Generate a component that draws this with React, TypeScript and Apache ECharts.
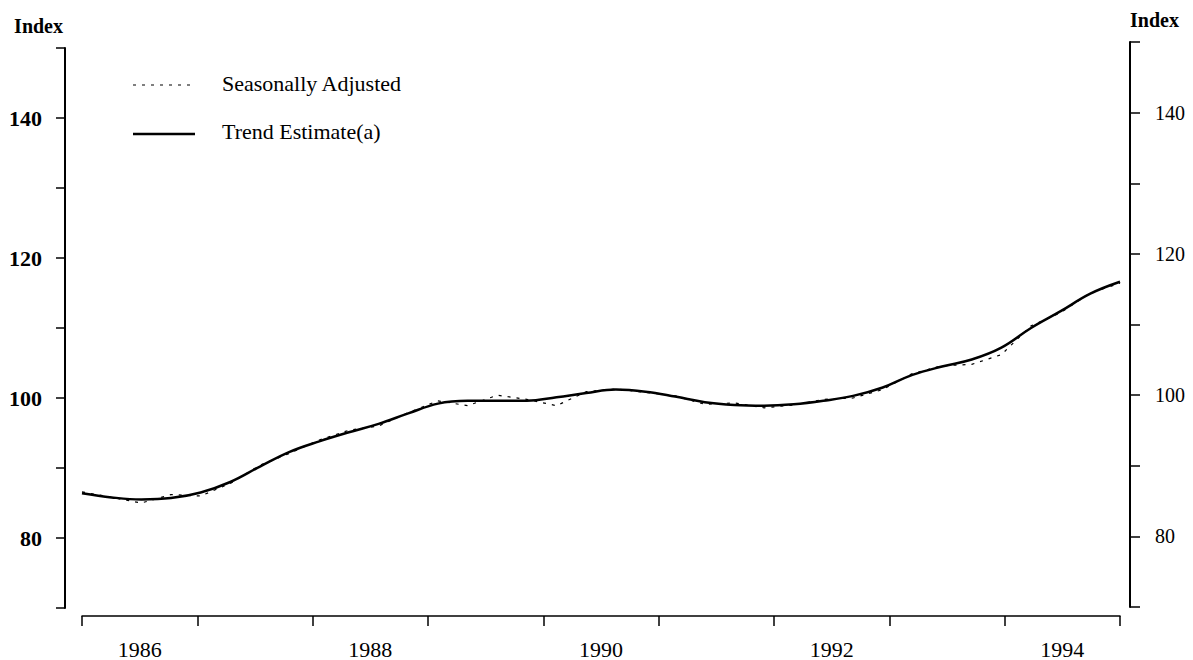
import React, { useEffect, useRef } from "react";
import * as echarts from "echarts";

const years = ["1986", "1987", "1988", "1989", "1990", "1991", "1992", "1993", "1994"];

const quarters = [
  "1986 Q1", "1986 Q2", "1986 Q3", "1986 Q4",
  "1987 Q1", "1987 Q2", "1987 Q3", "1987 Q4",
  "1988 Q1", "1988 Q2", "1988 Q3", "1988 Q4",
  "1989 Q1", "1989 Q2", "1989 Q3", "1989 Q4",
  "1990 Q1", "1990 Q2", "1990 Q3", "1990 Q4",
  "1991 Q1", "1991 Q2", "1991 Q3", "1991 Q4",
  "1992 Q1", "1992 Q2", "1992 Q3", "1992 Q4",
  "1993 Q1", "1993 Q2", "1993 Q3", "1993 Q4",
  "1994 Q1", "1994 Q2", "1994 Q3", "1994 Q4",
];

const seasonallyAdjusted = [
  86.6, 85.8, 85.0, 86.2, 86.0, 87.8, 90.4, 92.1,
  94.0, 95.4, 96.0, 97.9, 99.6, 98.9, 100.4, 99.8,
  98.9, 100.9, 101.3, 100.8, 100.3, 99.1, 99.3, 98.6,
  99.0, 99.8, 100.0, 101.2, 103.5, 104.6, 104.8, 106.2,
  110.3, 112.2, 115.0, 116.4,
];

const trendEstimate = [
  86.4, 85.8, 85.5, 85.7, 86.5, 88.0, 90.2, 92.3,
  93.8, 95.1, 96.3, 97.8, 99.2, 99.6, 99.6, 99.6,
  100.1, 100.7, 101.2, 100.9, 100.2, 99.4, 99.0, 98.9,
  99.1, 99.6, 100.3, 101.5, 103.3, 104.5, 105.5, 107.2,
  110.0, 112.4, 114.9, 116.6,
];

const seriesNames = ["Seasonally Adjusted", "Trend Estimate(a)"];

const FONT = "'Liberation Serif', 'Times New Roman', serif";

export default function App() {
  const ref = useRef<HTMLDivElement>(null);

  useEffect(() => {
    if (!ref.current) return;
    const chart = echarts.init(ref.current, undefined, { renderer: "svg" });
    const black = "#000";
    const option: any = {
      animation: false,
      backgroundColor: "#fff",
      textStyle: { fontFamily: FONT, color: black },
      grid: [
        { left: 82, right: 73, top: 48, bottom: 47 },
        { left: 82, right: 73, top: 42, bottom: 53 },
      ],
      xAxis: [
        {
          type: "category",
          gridIndex: 0,
          data: years,
          position: "bottom",
          offset: 8,
          boundaryGap: true,
          axisLine: { show: true, lineStyle: { color: black, width: 1.5 } },
          axisTick: { show: true, interval: 0, length: 10, alignWithLabel: false, lineStyle: { color: black, width: 1.5 } },
          axisLabel: { interval: 1, margin: 22, fontSize: 22, color: black, fontFamily: FONT },
          splitLine: { show: false },
        },
        {
          type: "category",
          gridIndex: 0,
          data: quarters,
          boundaryGap: false,
          show: false,
        },
        {
          type: "category",
          gridIndex: 1,
          data: years,
          show: false,
        },
      ],
      yAxis: [
        {
          type: "value",
          gridIndex: 0,
          position: "left",
          offset: 17,
          min: 70,
          max: 150,
          interval: 10,
          name: "Index",
          nameLocation: "end",
          nameGap: 12,
          nameTextStyle: { align: "right", fontSize: 20, fontWeight: "bold", color: black, fontFamily: FONT, padding: [0, 2, 0, 0] },
          axisLine: { show: true, lineStyle: { color: black, width: 2 } },
          axisTick: { show: true, length: 9, lineStyle: { color: black, width: 1.5 } },
          axisLabel: {
            margin: 23,
            fontSize: 22,
            fontWeight: "bold",
            color: black,
            fontFamily: FONT,
            formatter: (v: number) => (v % 20 === 0 ? String(v) : ""),
          },
          splitLine: { show: false },
        },
        {
          type: "value",
          gridIndex: 1,
          position: "right",
          offset: 10,
          min: 70,
          max: 150,
          interval: 10,
          name: "Index",
          nameLocation: "end",
          nameGap: 12,
          nameTextStyle: { align: "left", fontSize: 20, fontWeight: "bold", color: black, fontFamily: FONT },
          axisLine: { show: true, lineStyle: { color: black, width: 2 } },
          axisTick: { show: true, length: 10, lineStyle: { color: black, width: 1.5 } },
          axisLabel: {
            margin: 25,
            fontSize: 20,
            color: black,
            fontFamily: FONT,
            formatter: (v: number) => (v % 20 === 0 ? String(v) : ""),
          },
          splitLine: { show: false },
        },
      ],
      graphic: [
        {
          type: "line",
          shape: { x1: 133, y1: 85, x2: 195, y2: 85 },
          style: { stroke: black, lineWidth: 1.2, lineDash: [3, 6] },
        },
        {
          type: "text",
          x: 222,
          y: 83,
          style: { text: seriesNames[0], fontSize: 22, fontFamily: FONT, fill: black, verticalAlign: "middle" },
        },
        {
          type: "line",
          shape: { x1: 133, y1: 134, x2: 195, y2: 134 },
          style: { stroke: black, lineWidth: 2.5 },
        },
        {
          type: "text",
          x: 222,
          y: 131,
          style: { text: seriesNames[1], fontSize: 22, fontFamily: FONT, fill: black, verticalAlign: "middle" },
        },
      ],
      series: [
        {
          name: seriesNames[0],
          type: "line",
          xAxisIndex: 1,
          yAxisIndex: 0,
          data: seasonallyAdjusted,
          symbol: "none",
          lineStyle: { color: black, width: 1.2, type: [3, 6] },
          z: 2,
        },
        {
          name: seriesNames[1],
          type: "line",
          xAxisIndex: 1,
          yAxisIndex: 0,
          data: trendEstimate,
          symbol: "none",
          smooth: 0.4,
          lineStyle: { color: black, width: 2.5 },
          z: 3,
        },
      ],
    };
    chart.setOption(option);
    return () => chart.dispose();
  }, []);

  return (
    <div
      ref={ref}
      style={{ position: "fixed", left: 0, top: 0, width: 1193, height: 660, background: "#fff" }}
    />
  );
}
